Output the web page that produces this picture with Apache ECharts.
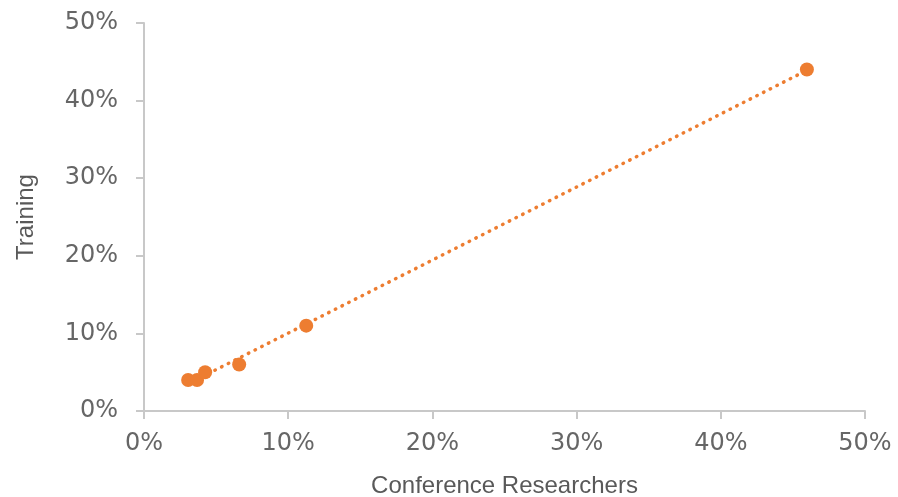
<!DOCTYPE html>
<html>
<head>
<meta charset="utf-8">
<script src="https://cdn.jsdelivr.net/npm/echarts@6/dist/echarts.min.js"></script>
<style>
html,body{margin:0;padding:0;background:#fff;}
#chart{width:898px;height:497px;}
</style>
</head>
<body>
<div id="chart"></div>
<script>
// Data (percent values)
var conferenceResearchers = [3.06, 3.68, 4.24, 6.6, 11.25, 45.97];
var training = [4, 4, 5, 6, 11, 44];
// Linear trendline endpoints
var trendX = [3.06, 45.97];
var trendY = [3.5, 43.9];

var pts = conferenceResearchers.map(function (x, i) { return [x, training[i]]; });
var trend = trendX.map(function (x, i) { return [x, trendY[i]]; });

var FONT = '"Liberation Sans", Arial, sans-serif';
var TICKFONT = '"DejaVu Sans", sans-serif';
var TXT = '#595959';
var AX = '#C8C8C8';
var ORANGE = '#ED7D31';

var chart = echarts.init(document.getElementById('chart'), null, { renderer: 'canvas' });
chart.setOption({
  animation: false,
  backgroundColor: '#fff',
  grid: { left: 144, right: 33, top: 23, bottom: 86, containLabel: false, outerBoundsMode: 'none' },
  xAxis: {
    type: 'value', min: 0, max: 50, interval: 10,
    name: 'Conference Researchers', nameLocation: 'middle', nameGap: 63,
    nameTextStyle: { color: TXT, fontSize: 24, fontFamily: FONT },
    axisLine: { show: true, lineStyle: { color: AX, width: 2 } },
    axisTick: { show: true, inside: false, length: 8, lineStyle: { color: AX, width: 2 } },
    axisLabel: { color: '#666666', fontSize: 24, fontFamily: TICKFONT, margin: 21, formatter: '{value}%' },
    splitLine: { show: false }
  },
  yAxis: {
    type: 'value', min: 0, max: 50, interval: 10,
    name: 'Training', nameLocation: 'middle', nameGap: 106, nameRotate: 90,
    nameTextStyle: { color: TXT, fontSize: 24, fontFamily: FONT },
    axisLine: { show: true, lineStyle: { color: AX, width: 2 } },
    axisTick: { show: true, inside: false, length: 8, lineStyle: { color: AX, width: 2 } },
    axisLabel: { color: '#666666', fontSize: 24, fontFamily: TICKFONT, margin: 26, formatter: '{value}%' },
    splitLine: { show: false }
  },
  series: [
    {
      type: 'line', data: trend, symbol: 'none', silent: true, z: 3,
      lineStyle: { color: ORANGE, width: 3.5, type: [0.5, 7], cap: 'round' }
    },
    {
      type: 'scatter', data: pts, symbol: 'circle', symbolSize: 14, z: 4,
      itemStyle: { color: ORANGE, opacity: 1 }
    }
  ]
});
</script>
</body>
</html>
